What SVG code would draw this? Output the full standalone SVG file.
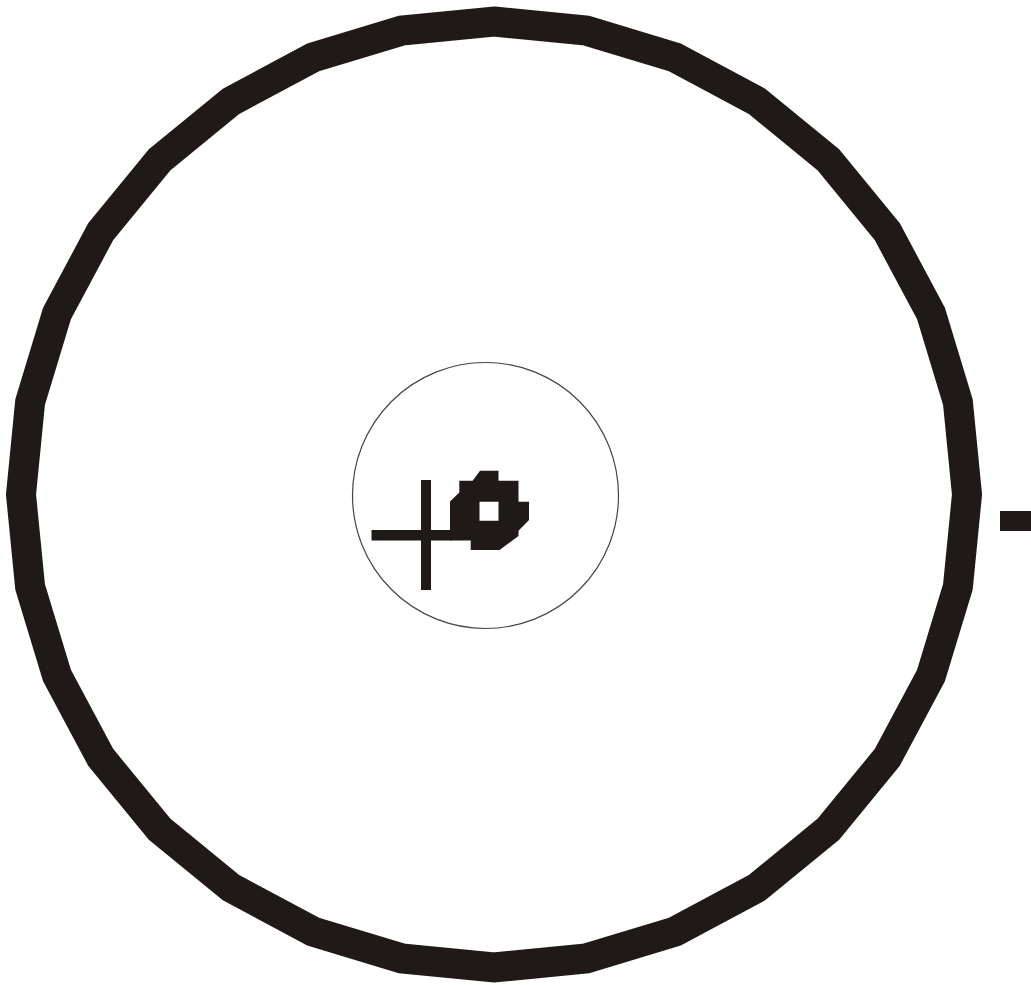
<svg xmlns="http://www.w3.org/2000/svg" width="1031" height="985" viewBox="0 0 1031 985">
  <style>
    .ink { fill: #1f1a17; }
    .ring { fill: none; stroke: #1f1a17; stroke-width: 30; stroke-linejoin: miter; }
    .thin { fill: none; stroke: #444; stroke-width: 1.2; }
  </style>
  <rect width="1031" height="985" fill="#ffffff"/>
  <g id="outer-ring">
    <polygon class="ring" points="494,21.5 586.3,30.6 675,57.5 756.8,101.2 828.5,160 887.3,231.7 931,313.5 957.9,402.2 967,494.5 957.9,586.8 931,675.5 887.3,757.3 828.5,829 756.8,887.8 675,931.5 586.3,958.4 494,967.5 401.7,958.4 313,931.5 231.2,887.8 159.5,829 100.7,757.3 57,675.5 30.1,586.8 21,494.5 30.1,402.2 57,313.5 100.7,231.7 159.5,160 231.2,101.2 313,57.5 401.7,30.6"/>
  </g>
  <g id="inner-circle">
    <circle class="thin" cx="485.5" cy="495.5" r="133"/>
  </g>
  <g id="cross">
    <rect class="ink" x="421" y="480" width="10" height="110"/>
    <rect class="ink" x="371.5" y="530" width="80" height="10.5"/>
  </g>
  <g id="blob">
    <path class="ink" fill-rule="evenodd" d="M450,540.5 L450,501.5 L459.3,492.5 L459.3,480.7 L472.7,480.7 L480,470.7 L498.5,470.7 L498.5,480.7 L518.5,480.7 L518.5,501.7 L529,501.7 L529,520 L518.5,530.7 L518.5,536 L499.5,550 L470.7,550 L470.7,540.5 Z M479.5,501.7 L498.5,501.7 L498.5,520.7 L479.5,520.7 Z"/>
  </g>
  <g id="right-mark">
    <rect class="ink" x="1000" y="511" width="31" height="20"/>
  </g>
</svg>
